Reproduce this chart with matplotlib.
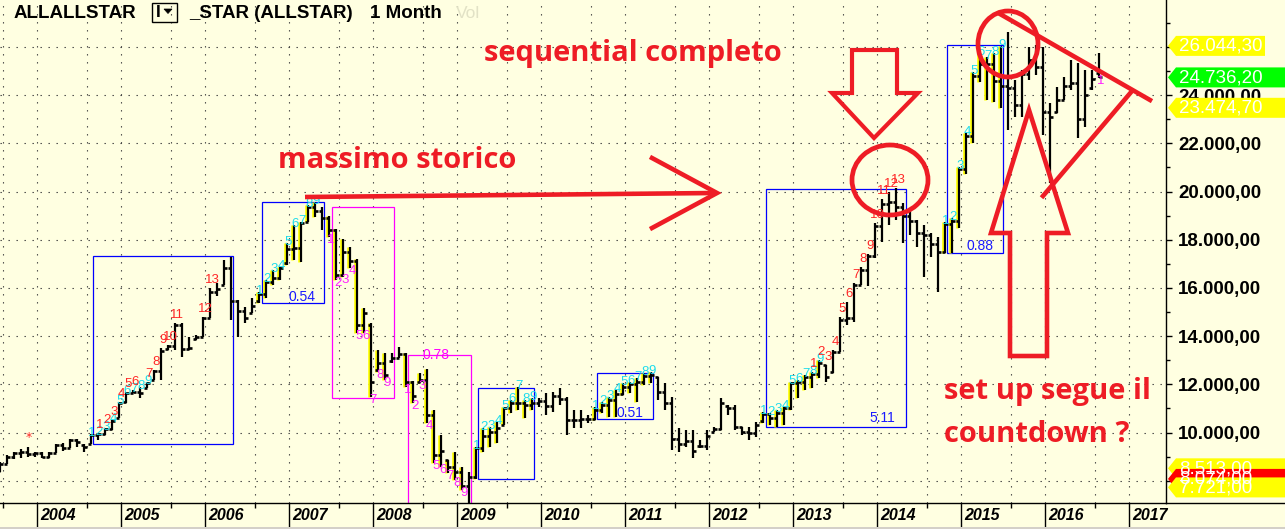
import matplotlib
matplotlib.use("Agg")
import matplotlib.pyplot as plt
from matplotlib.patches import Polygon, Ellipse, Rectangle
from matplotlib.transforms import blended_transform_factory, offset_copy
import numpy as np

W, H = 1285, 529
BG = '#FFFFE1'
RED = '#EE1C25'

# ---------------- data (monthly OHLC, first bar = Aug 2003; month index 0 = Jan 2004) ----------
first_month = -5
opens = [8410, 8710, 9000, 9145, 9195,
         9095, 9145, 9000, 9145, 9490, 9345, 9685, 9490, 9540, 9885, 9935, 10130,
         10615, 11260, 11650, 11700, 11850, 12170, 12535, 13470, 13570, 14460, 13470, 13865,
         13965, 14755, 15835, 16130, 16820, 15440, 15045, 14945, 15440, 15735, 16230, 16430,
         17015, 17610, 17655, 18740, 19375, 19180, 18885, 18390, 16525, 17505, 17115, 14455,
         14455, 12590, 12885, 12980, 13080, 13275, 12095, 12095, 12195, 10720, 9050, 8855,
         8555, 8365, 7770, 8165, 9340, 9835, 10030, 10325, 11015, 11210, 11210, 11160,
         11210, 11310, 11110, 11500, 11410, 10520, 10520, 10570, 10570, 10915, 11160, 11360,
         11610, 11905, 12000, 12095, 12340, 12295, 11700, 11210, 9735, 9540, 9640, 9440,
         9440, 10030, 10130, 11110, 11015, 10230, 10030, 9985, 10470, 10765, 10620, 10815,
         11015, 12045, 12095, 12290, 12440, 12785, 12490, 13325, 14660, 14760, 16130, 16725,
         17310, 18590, 19475, 19570, 19375, 18980, 18790, 18295, 18195, 17805, 17505, 18640,
         18785, 20945, 22325, 24790, 25275, 25275, 24590, 24395, 24295, 23605, 24885, 25475,
         25180, 23305, 23300, 23795, 24395, 24490, 23010, 24300, 24900]
highs = [8780, 9050, 9200, 9315, 9400,
         9195, 9195, 9195, 9540, 9560, 9725, 9715, 9520, 9935, 9985, 10190, 10520,
         11260, 11680, 11760, 11890, 12090, 12585, 13500, 13630, 14550, 14550, 13965, 14045,
         14795, 15990, 16210, 17165, 17285, 15500, 15205, 15580, 15835, 16330, 16755, 16870,
         17865, 18610, 18740, 19445, 19575, 19355, 18985, 18450, 18025, 17705, 17200, 15165,
         14545, 13420, 13295, 13295, 13545, 13295, 12145, 12470, 12635, 10935, 9895, 8865,
         9195, 8565, 8365, 9390, 10195, 10230, 10435, 11060, 11350, 11890, 11350, 11430,
         11430, 11640, 11690, 11850, 11480, 10935, 10935, 10715, 11050, 11260, 11480, 11770,
         12050, 12100, 12270, 12470, 12510, 12305, 12060, 11480, 10195, 10100, 10100, 9690,
         10100, 10230, 11430, 11140, 11140, 10230, 10230, 10435, 10845, 10805, 10935, 11050,
         12095, 12170, 12380, 12510, 13005, 12805, 13420, 14795, 15415, 16210, 16870, 17410,
         18690, 19670, 19985, 20150, 19525, 19180, 18830, 18610, 18285, 18095, 18740, 18885,
         21015, 22425, 24965, 25745, 25580, 25745, 26044.3, 26625, 24630, 25040, 26000, 26080,
         26000, 23670, 24345, 24760, 25475, 25335, 25040, 25040, 25745]
lows = [8365, 8710, 8905, 8955, 8985,
        8985, 8955, 8955, 9145, 9245, 9345, 9400, 9195, 9520, 9685, 9895, 10100,
        10595, 11220, 11630, 11430, 11850, 12170, 12170, 13425, 13425, 13125, 13425, 13835,
        13965, 14755, 15685, 16130, 14650, 13960, 14550, 14945, 15370, 15580, 16120, 16330,
        16955, 17165, 17075, 18740, 18940, 18400, 18095, 16330, 16455, 16820, 14130, 14130,
        11475, 12510, 12170, 12885, 13080, 11890, 11220, 12055, 10395, 8735, 8565, 8320,
        8025, 7610, 7000, 8070, 9195, 9405, 9560, 10305, 10805, 10935, 10595, 10935,
        11050, 10715, 10845, 11140, 9900, 10190, 10190, 10395, 10525, 10805, 10640, 10640,
        11560, 11640, 11260, 11975, 12055, 11350, 10935, 9275, 9195, 9400, 8940, 9355,
        9275, 10020, 10100, 10715, 10100, 9900, 9690, 9820, 10395, 10305, 10230, 10305,
        10935, 11430, 11765, 11855, 12260, 12095, 12470, 13325, 14455, 14585, 16120, 16080,
        17240, 17895, 18605, 18825, 17860, 18195, 17705, 16455, 17285, 15835, 17449, 17449,
        18490, 20745, 22020, 24550, 23795, 23710, 23465, 22550, 23090, 23090, 24630, 24835,
        22345, 20350, 23255, 23795, 24215, 22225, 22675, 24215, 24720]
closes = [8710, 9000, 9145, 9195, 9095,
          9145, 9000, 9145, 9490, 9345, 9685, 9590, 9395, 9885, 9935, 10130, 10470,
          11210, 11650, 11700, 11650, 12040, 12535, 13375, 13570, 14460, 13470, 13520, 13965,
          14755, 15835, 15935, 16820, 15440, 15045, 14750, 15245, 15735, 16230, 16430, 16820,
          17610, 17655, 18690, 19375, 19180, 18885, 18390, 16525, 17505, 17115, 14455, 14945,
          12095, 12885, 12390, 13080, 13275, 12095, 11505, 12195, 10720, 9050, 9245, 8555,
          8365, 7770, 8165, 9340, 9835, 10030, 10180, 11015, 11210, 11210, 11160, 11210,
          11310, 11110, 11500, 11410, 10520, 10520, 10570, 10570, 10915, 11160, 11360, 11610,
          11905, 12000, 12095, 12340, 12390, 11700, 11210, 9735, 9540, 9640, 9245, 9440,
          9835, 10130, 11210, 11015, 10230, 10030, 9985, 10330, 10765, 10620, 10815, 11015,
          12045, 12095, 12290, 12440, 12885, 12290, 13325, 14660, 14760, 16130, 16725, 17310,
          18590, 19475, 19570, 19375, 18980, 18790, 18295, 18195, 17805, 17505, 18640, 18785,
          20945, 22325, 24790, 25275, 25275, 24590, 24395, 24295, 23605, 24885, 25475, 25180,
          23305, 23110, 23795, 24395, 24490, 23010, 23995, 24690, 24736.2]

# TD setup / countdown marks (month indices)
buy_setup_starts = [8, 32, 63, 80, 104, 130]          # cyan 1..9
yellow_setup_starts = [32, 63, 80, 104, 130, 42, 53]  # bars highlighted yellow
sell_setup_starts = [42, 53]                         # magenta 1..9
extra_pink = [(152, '1')]
countdown1 = [9, 10, 11, 12, 13, 14, 16, 17, 18, 19, 20, 24, 25]
countdown2 = list(range(111, 124))
star_month = -1

# boxes: (k0, k1, low, high, color, label, label_k, label_v)
boxes = [
    (8.29, 28.29, 9523, 17325, '#0000FF', None, None, None),
    (32.43, 41.29, 15374, 19566, '#0000FF', '0.54', 38.1, 15623),
    (42.43, 51.29, 11432, 19358, '#FF00FF', None, None, None),
    (53.29, 62.29, 5000, 13216, '#FF00FF', '0.78', 57.3, 13216),
    (63.29, 71.29, 8070, 11847, '#0000FF', None, None, None),
    (80.29, 88.29, 10560, 12469, '#0000FF', '0.51', 85.0, 10809),
    (104.43, 124.43, 10228, 20105, '#0000FF', '5.11', 121.0, 10602),
    (130.29, 138.29, 17449, 26081, '#0000FF', '0.88', 135.0, 17740),
]

years = list(range(2004, 2018))
tags = [(26044.30, '26.044,30', '#FFFF00', 1265),
        (24736.20, '24.736,20', '#00FF00', 1285),
        (23474.70, '23.474,70', '#FFFF00', 1285),
        (8513.00, '8.513,00', '#FFFF00', 1285),
        (8074.00, '8.074,00', '#FF0000', 1285),
        (7721.00, '7.721,00', '#FFFF00', 1285)]
hidden_labels = [8000, 26000]   # fully covered by price tags in the reference


def itfmt(v):
    return f"{v:,.2f}".replace(',', 'X').replace('.', ',').replace('X', '.')


# ---------------- figure ----------------
fig = plt.figure(figsize=(W / 100, H / 100), dpi=100, facecolor=BG)
ax = fig.add_axes([0, 26 / H, 1166 / W, 503 / H])
ax.set_facecolor(BG)
ax.set_xlim(-5, (1166 - 35) / 7)
ax.set_ylim(7074.25, 27948.75)

grid_ls = (0, (1.2, 6))
gcol = '#3a3a3a'
for v in range(8000, 28000, 2000):
    ax.axhline(v, color=gcol, lw=0.8, ls=grid_ls, zorder=0.5)
major_x = [12 * (y - 2004) + 2 / 7 for y in years]
minor_x = [12 * (y - 2004) + 2 / 7 + 50 / 7 for y in range(2003, 2017)]
for x in major_x + minor_x:
    ax.axvline(x, color=gcol, lw=0.8, ls=grid_ls, zorder=0.5)

ax.set_xticks(major_x)
ax.set_xticks(minor_x, minor=True)
ax.tick_params(axis='x', which='major', length=17.5, width=1, direction='out',
               labelbottom=False, color='black')
ax.tick_params(axis='x', which='minor', length=3.6, width=1, direction='out', color='black')
bt = blended_transform_factory(ax.transData, ax.transAxes)
for x, y in zip(major_x, years):
    ax.text(x + 0.45, -13 / 503, str(y), transform=bt, ha='left', va='center',
            fontsize=11.5, fontweight='bold', fontstyle='italic',
            family='Liberation Sans', clip_on=False)

ax.yaxis.tick_right()
yt = list(range(8000, 28000, 2000))
ax.set_yticks(yt)
ax.set_yticklabels(['' if v in hidden_labels else itfmt(v) for v in yt])
ax.set_yticks(list(range(9000, 28000, 2000)), minor=True)
ax.tick_params(axis='y', which='major', length=4.3, width=1, pad=4.5, labelsize=13.5)
ax.tick_params(axis='y', which='minor', length=2.8, width=1)
for lab in ax.get_yticklabels():
    lab.set_fontweight('bold')
    lab.set_family('Liberation Sans')
for s in ['left', 'top']:
    ax.spines[s].set_visible(False)
for s in ['right', 'bottom']:
    ax.spines[s].set_color('black')
    ax.spines[s].set_linewidth(1)

ks = np.arange(first_month, first_month + len(closes))
idx = {k: i for i, k in enumerate(ks)}

# yellow highlight bars
yk = []
for s in yellow_setup_starts:
    yk += list(range(s, s + 9))
yi = [idx[k] for k in yk]
ax.vlines(ks[yi] - 0.32, np.array(lows)[yi], np.array(highs)[yi], color='#FFFF00', lw=1.9, zorder=2.5)

ax.vlines(ks, lows, highs, color='black', lw=1.6, zorder=3)
ax.hlines(opens, ks - 0.45, ks, color='black', lw=1.9, zorder=3)
ax.hlines(closes, ks, ks + 0.45, color='black', lw=1.9, zorder=3)

# boxes
for k0, k1, lo, hi, col, lab, lk, lv in boxes:
    ax.add_patch(Rectangle((k0, lo), k1 - k0, hi - lo, fill=False, ec=col, lw=0.9, zorder=2))
    if lab:
        ax.text(lk, lv, lab, color=col if col != '#0000FF' else '#1a1aff', fontsize=10,
                ha='center', va='center', family='Liberation Sans', zorder=4)


def lbl(k, v, s, col, dx, dy):
    tr = offset_copy(ax.transData, fig=fig, x=dx, y=dy, units='dots')
    ax.text(k, v, s, transform=tr, color=col, fontsize=9.5, ha='center', va='center',
            family='Liberation Sans', zorder=5)


CY = '#1EDCEC'
PK = '#FF22FF'
RD = '#FF2626'
for s in buy_setup_starts:
    for n in range(9):
        k = s + n
        lbl(k, highs[idx[k]], str(n + 1), CY, 1, 1)
for s in sell_setup_starts:
    for n in range(9):
        k = s + n
        lbl(k, lows[idx[k]], str(n + 1), PK, 2, -3)
for k, s in extra_pink:
    lbl(k, lows[idx[k]], s, PK, 2, -3)
for grp in (countdown1, countdown2):
    for n, k in enumerate(grp):
        lbl(k, highs[idx[k]], str(n + 1), RD, 2, 8)
tr = offset_copy(ax.transData, fig=fig, x=1, y=9, units='dots')
ax.text(star_month, highs[idx[star_month]], '*', transform=tr, color=RD, fontsize=9,
        ha='center', va='center', zorder=5)

# ---------------- overlay in pixel coordinates ----------------
ov = fig.add_axes([0, 0, 1, 1])
ov.set_xlim(0, W)
ov.set_ylim(H, 0)
ov.axis('off')
ov.patch.set_alpha(0)
ov.set_zorder(5)

ov.add_patch(Rectangle((0, 527), W, 3, color='#D4D0C8', lw=0))
ov.plot([1166, W], [503, 503], color='black', lw=1)

# header
hf = dict(fontsize=13.5, fontweight='bold', family='Liberation Sans', va='center')
ov.text(14, 13, 'ALLALLSTAR', **hf)
ov.add_patch(Rectangle((152, 3), 25, 19, fill=False, ec='black', lw=1))
ov.text(158.5, 12.5, 'I', fontsize=12.5, fontweight='bold', family='Liberation Sans', va='center', ha='center')
ov.add_patch(Polygon([(164, 9), (172, 9), (168, 13.5)], closed=True, fc='black', ec='black', lw=0.5))
ov.text(189, 13, '_STAR (ALLSTAR)', **hf)
ov.text(370, 13, '1 Month', **hf)
ov.text(456, 13, 'Vol', fontsize=12.5, family='Liberation Sans', va='center', color='#E2E2C6')

# tags on price scale
for v, txt, col, right in tags:
    py = H - ax.transData.transform((0, v))[1]
    pts = [(1168, py), (1176, py - 10), (right, py - 10), (right, py + 10), (1176, py + 10)]
    ov.add_patch(Polygon(pts, closed=True, fc=col, ec='none', zorder=6))
    ov.text(1179, py + 0.5, txt, color='white', fontsize=13.5, family='Liberation Sans',
            ha='left', va='center', zorder=7)

# red hand-drawn annotations
lw = 3.3
ov.plot([305, 715], [197, 193], color=RED, lw=lw, solid_capstyle='butt')
ov.plot([652, 717, 652], [158, 193, 228], color=RED, lw=lw, solid_joinstyle='miter')
ov.add_patch(Polygon([(852, 50), (897, 50), (897, 93), (918, 93), (874, 138), (832, 93), (852, 93)],
                     closed=True, fill=False, ec=RED, lw=3, joinstyle='miter'))
ov.add_patch(Polygon([(1029, 110), (1068, 233), (1047, 233), (1047, 356), (1010, 356), (1010, 233), (991, 233)],
                     closed=True, fill=False, ec=RED, lw=3.3, joinstyle='miter'))
ov.add_patch(Ellipse((890, 180), 76, 70, fill=False, ec=RED, lw=3.4))
ov.add_patch(Ellipse((1008, 44), 60, 66, fill=False, ec=RED, lw=3.4))
ov.plot([1000, 1150], [14, 100], color=RED, lw=lw)
ov.plot([1132, 1043], [91, 196], color=RED, lw=lw)

tf = dict(color=RED, fontsize=21, fontweight='bold', family='Open Sans', va='center')
ov.text(633, 54, 'sequential completo', ha='center', **tf)
ov.text(397, 160, 'massimo storico', ha='center', **tf)
ov.text(944, 392, 'set up segue il', ha='left', **tf)
ov.text(944, 434, 'countdown ?', ha='left', **tf)

fig.savefig('out.png', dpi=100, facecolor=BG)
